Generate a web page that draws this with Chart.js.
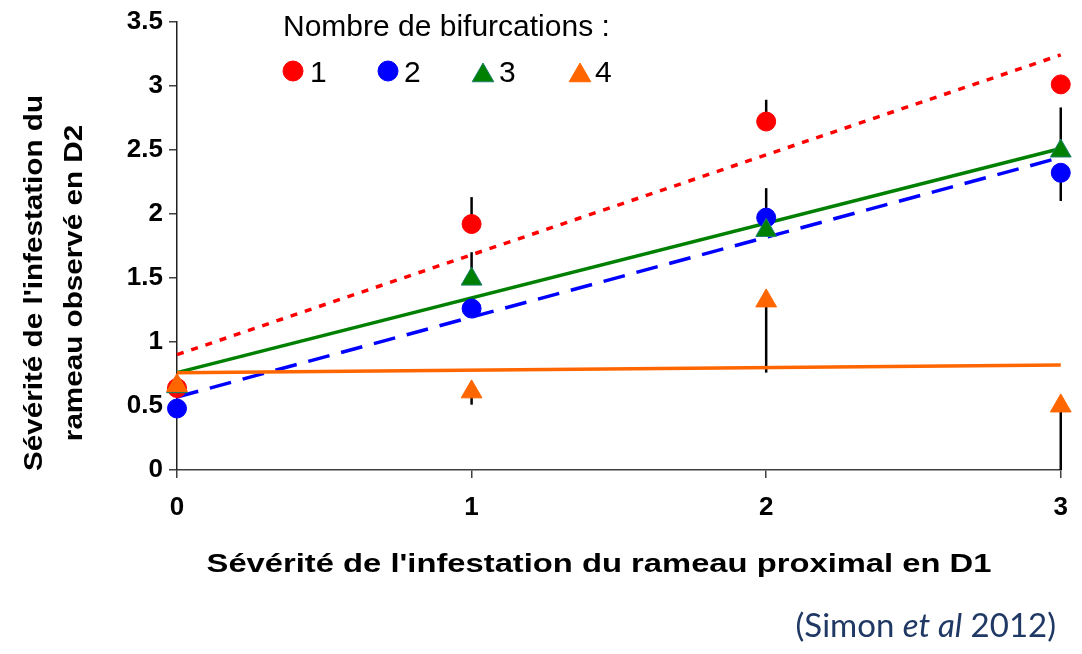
<!DOCTYPE html>
<html><head><meta charset="utf-8">
<script src="https://cdn.jsdelivr.net/npm/chart.js@4/dist/chart.umd.min.js"></script>
<style>
html,body{margin:0;padding:0;background:#fff;}
#wrap{position:relative;width:1082px;height:654px;overflow:hidden;}
#c{display:block;}
#caption{position:absolute;right:26px;top:605px;font-family:Lato,'Open Sans',sans-serif;font-size:33px;color:#1F3864;white-space:nowrap;line-height:1.2;}
</style></head><body>
<div id="wrap"><canvas id="c" width="1082" height="654" style="width:1082px;height:654px"></canvas>
<div id="caption">(Simon <i>et al</i> 2012)</div></div>
<script>
// ---- data ----
const xValues = [0, 1, 2, 3];
const seriesNames = ['1', '2', '3', '4'];
const legendTitle = 'Nombre de bifurcations :';
const xTitle = "Sévérité de l'infestation du rameau proximal en D1";
const yTitle = ["Sévérité de l'infestation du", "rameau observé en D2"];
const yTickLabels = ['0', '0.5', '1', '1.5', '2', '2.5', '3', '3.5'];
const xTickLabels = ['0', '1', '2', '3'];

const s1 = [0.64, 1.92, 2.72, 3.01];
const s2 = [0.48, 1.26, 1.97, 2.32];
const s3 = [0.65, 1.49, 1.87, 2.49];
const s4 = [0.66, 0.61, 1.32, 0.50];

// other end of each (one-sided) error bar, null = none
const err1 = [null, 2.13, 2.89, null];
const err2 = [null, null, 2.20, 2.10];
const err3 = [null, 1.70, null, 2.83];
const err4 = [null, 0.51, 0.76, 0.00];

// trend lines: values at x = 0 and x = 3
const trendX = [0, 3];
const trend1 = [0.90, 3.24];
const trend2 = [0.57, 2.44];
const trend3 = [0.76, 2.51];
const trend4 = [0.76, 0.82];

// ---- styles ----
const colors = ['#FF0000', '#0000FF', '#008000', '#FF6600'];
const borders = ['#FF0000', '#0000FF', '#1C7F6E', '#FF6600'];
const styles = ['circle', 'circle', 'triangle', 'triangle'];
const radii = [9.5, 9.5, 12, 12];
const FONT = "'Liberation Sans', Arial, sans-serif";

const pts = (xs, ys) => xs.map((x, i) => ({x: x, y: ys[i]}));
const series = [s1, s2, s3, s4];
const errs = [err1, err2, err3, err4];
const trends = [trend1, trend2, trend3, trend4];
const dashes = [[7, 8], [22, 12], [], []];

const datasets = [];
trends.forEach((t, i) => {
  datasets.push({
    type: 'line', label: 'trend ' + seriesNames[i], data: pts(trendX, t),
    borderColor: colors[i], borderWidth: 3.5, borderDash: dashes[i],
    pointRadius: 0, fill: false, order: 3 - i * 0.1, borderCapStyle: 'butt', clip: false
  });
});
series.forEach((s, i) => {
  datasets.push({
    type: 'scatter', label: seriesNames[i], data: pts(xValues, s),
    backgroundColor: colors[i], borderColor: borders[i], borderWidth: 1,
    pointStyle: styles[i], pointRadius: radii[i], pointHoverRadius: radii[i],
    order: 2 - i * 0.1, clip: false
  });
});

const errorBars = {
  id: 'errorBars',
  beforeDatasetsDraw(chart) {
    const ctx = chart.ctx, xs = chart.scales.x, ys = chart.scales.y;
    ctx.save();
    ctx.strokeStyle = '#000'; ctx.lineWidth = 2.5;
    errs.forEach((e, i) => {
      e.forEach((v, j) => {
        if (v === null) return;
        const px = xs.getPixelForValue(xValues[j]);
        ctx.beginPath();
        ctx.moveTo(px, ys.getPixelForValue(series[i][j]));
        ctx.lineTo(px, ys.getPixelForValue(v));
        ctx.stroke();
      });
    });
    ctx.restore();
  }
};

const textAndLegend = {
  id: 'textAndLegend',
  afterDraw(chart) {
    const ctx = chart.ctx;
    ctx.save();
    ctx.fillStyle = '#000';
    // x axis title (stretched like the reference)
    ctx.font = 'bold 25px ' + FONT;
    ctx.textAlign = 'center'; ctx.textBaseline = 'alphabetic';
    ctx.save(); ctx.translate(599, 572); ctx.scale(1.31, 1); ctx.fillText(xTitle, 0, 0); ctx.restore();
    // y axis title, two lines, rotated
    ctx.font = 'bold 26px ' + FONT;
    const lineX = [42, 82];
    yTitle.forEach((t, k) => {
      ctx.save(); ctx.translate(lineX[k], 283); ctx.rotate(-Math.PI / 2); ctx.scale(1.14, 1);
      ctx.fillText(t, 0, 0); ctx.restore();
    });
    // legend
    ctx.textAlign = 'left';
    ctx.font = '30px ' + FONT;
    ctx.fillText(legendTitle, 283, 36);
    const mx = [293, 388, 483, 580];
    const tx = [310, 404, 499, 595];
    const my = [71, 71, 75.5, 75.5];
    seriesNames.forEach((n, i) => {
      ctx.fillStyle = colors[i]; ctx.strokeStyle = borders[i];
      Chart.helpers.drawPoint(ctx, {pointStyle: styles[i], radius: radii[i] + 0.5, rotation: 0, borderWidth: 1}, mx[i], my[i]);
      ctx.fillStyle = '#000';
      ctx.fillText(n, tx[i], 82);
    });
    ctx.restore();
  }
};

new Chart(document.getElementById('c'), {
  data: {datasets: datasets},
  options: {
    responsive: false, animation: false,
    layout: {padding: {top: 20, right: 20, left: 0, bottom: 70}},
    plugins: {legend: {display: false}, tooltip: {enabled: false}},
    scales: {
      x: {
        type: 'linear', min: 0, max: 3,
        afterFit: s => { s.height = 114; },
        afterBuildTicks: s => { s.ticks = xValues.map(v => ({value: v})); },
        ticks: {callback: (v) => xTickLabels[xValues.indexOf(v)], color: '#000', font: {family: FONT, size: 26, weight: 'bold'}, padding: 14, maxRotation: 0},
        grid: {drawOnChartArea: false, drawTicks: true, tickLength: 8, color: '#404040', lineWidth: 1.5},
        border: {color: '#404040', width: 1.5}
      },
      y: {
        type: 'linear', min: 0, max: 3.5,
        afterFit: s => { s.width = 177; },
        afterBuildTicks: s => { s.ticks = yTickLabels.map(t => ({value: parseFloat(t)})); },
        ticks: {callback: (v, i) => yTickLabels[i], color: '#000', font: {family: FONT, size: 26, weight: 'bold'}, padding: 6},
        grid: {drawOnChartArea: false, drawTicks: true, tickLength: 8, color: '#404040', lineWidth: 1.5},
        border: {color: '#202020', width: 1.5}
      }
    }
  },
  plugins: [errorBars, textAndLegend]
});
</script>
</body></html>
